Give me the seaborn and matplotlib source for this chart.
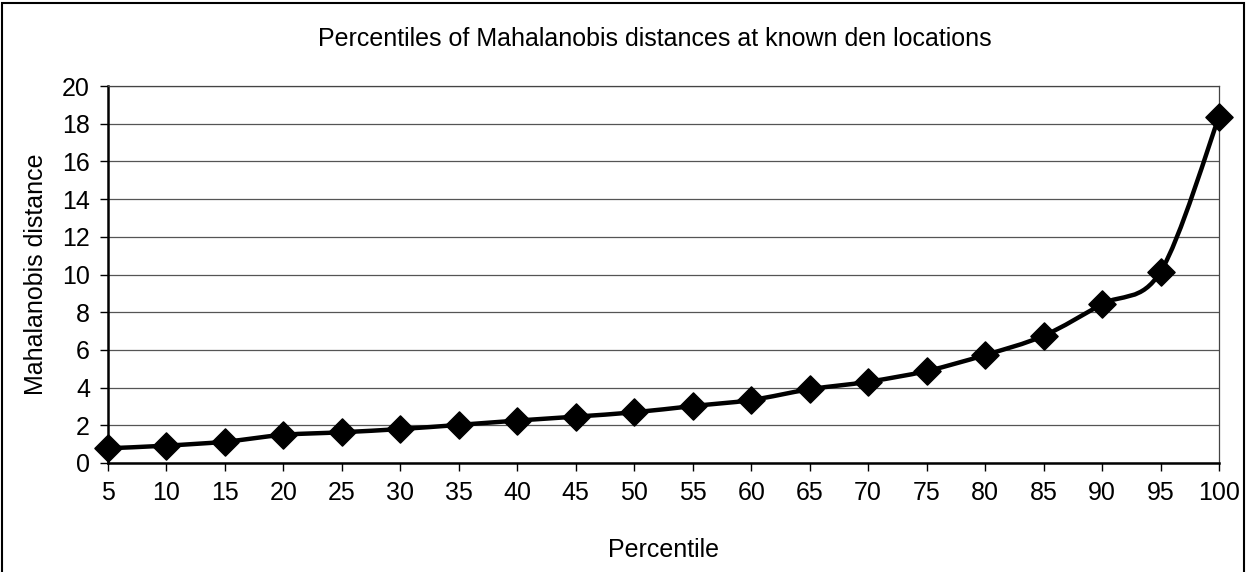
import numpy as np
import pandas as pd
import matplotlib
matplotlib.use("Agg")
import matplotlib.pyplot as plt
from matplotlib.path import Path
from matplotlib.patches import PathPatch, Rectangle
import seaborn as sns

# values
percentile = [5, 10, 15, 20, 25, 30, 35, 40, 45, 50,
              55, 60, 65, 70, 75, 80, 85, 90, 95, 100]
distance = [0.78, 0.92, 1.13, 1.49, 1.63, 1.80, 2.02, 2.25, 2.46, 2.69,
            3.02, 3.34, 3.91, 4.31, 4.88, 5.73, 6.75, 8.43, 10.15, 18.37]

df = pd.DataFrame({"Percentile": percentile, "Mahalanobis distance": distance})

sns.set_style("white")
plt.rcParams["font.family"] = ["Liberation Sans", "DejaVu Sans"]
plt.rcParams.update({"text.color": "black", "axes.labelcolor": "black",
                     "xtick.color": "black", "ytick.color": "black"})

fig = plt.figure(figsize=(12.48, 5.72), dpi=100)
ax = fig.add_axes([0.0865, 0.1906, 0.8903, 0.659])

# smoothed line (Excel style bezier through the points)
x = np.array(df["Percentile"], dtype=float)
y = np.array(df["Mahalanobis distance"], dtype=float)
verts = [(x[0], y[0])]
codes = [Path.MOVETO]
n = len(x)
for i in range(n - 1):
    p0 = (x[i - 1], y[i - 1]) if i > 0 else (x[i], y[i])
    p3 = (x[i + 2], y[i + 2]) if i + 2 < n else (x[i + 1], y[i + 1])
    c1 = (x[i] + (x[i + 1] - p0[0]) / 6, y[i] + (y[i + 1] - p0[1]) / 6)
    c2 = (x[i + 1] - (p3[0] - x[i]) / 6, y[i + 1] - (p3[1] - y[i]) / 6)
    verts += [c1, c2, (x[i + 1], y[i + 1])]
    codes += [Path.CURVE4] * 3
ax.add_patch(PathPatch(Path(verts, codes), facecolor="none", edgecolor="black",
                       lw=3.2, zorder=3, clip_on=False))

sns.scatterplot(data=df, x="Percentile", y="Mahalanobis distance", marker="D",
                s=190, color="black", edgecolor="black", ax=ax, zorder=4,
                clip_on=False)

ax.set_xlim(5, 100)
ax.set_ylim(0, 20)
ax.set_xticks(percentile)
ax.set_yticks(range(0, 21, 2))
ax.yaxis.grid(True, color="#555555", lw=0.9)
ax.set_axisbelow(True)

for side in ["top", "right"]:
    ax.spines[side].set_color("#444444")
    ax.spines[side].set_linewidth(0.9)
for side in ["left", "bottom"]:
    ax.spines[side].set_color("black")
    ax.spines[side].set_linewidth(1.8)

ax.tick_params(axis="both", direction="out", length=6, width=1, color="black",
               labelcolor="black", labelsize=18, pad=7, left=True, bottom=True)
ax.set_xlabel("Percentile", fontsize=18, labelpad=24)
ax.set_ylabel("Mahalanobis distance", fontsize=18, labelpad=10)
fig.suptitle("Percentiles of Mahalanobis distances at known den locations",
             fontsize=18, x=0.525, y=0.952)

# outer chart border
fig.patches.append(Rectangle((0.002, -0.02), 0.995, 1.015, transform=fig.transFigure,
                             fill=False, edgecolor="black", lw=1.5))

fig.savefig("out.png", dpi=100)
